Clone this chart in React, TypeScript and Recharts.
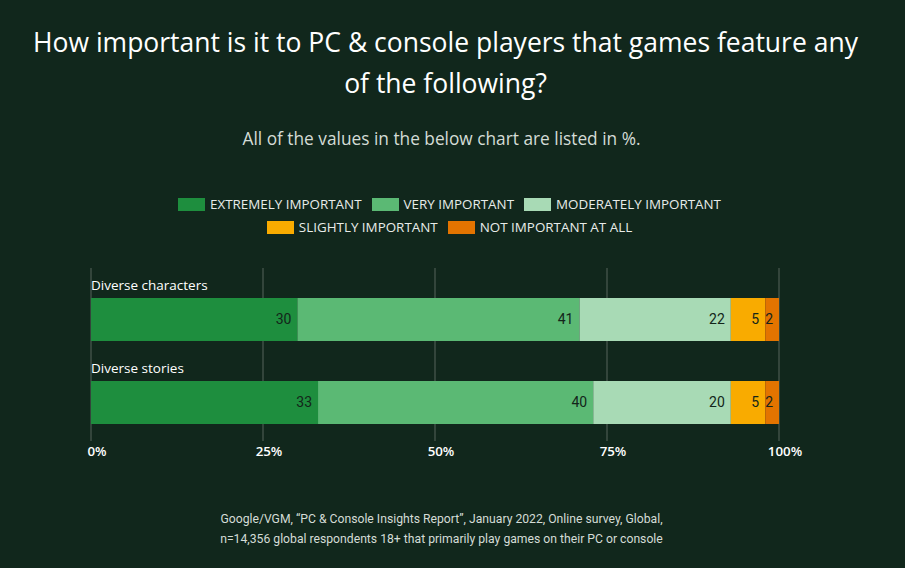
import React from "react";
import { BarChart, Bar, XAxis, YAxis, CartesianGrid, LabelList } from "recharts";

// Survey answers, in percent of respondents
const categories = ["Diverse characters", "Diverse stories"];
const extremelyImportant = [30, 33];
const veryImportant = [41, 40];
const moderatelyImportant = [22, 20];
const slightlyImportant = [5, 5];
const notImportantAtAll = [2, 2];

const xTicks = [0, 25, 50, 75, 100];

const series = [
  { key: "extremely", label: "EXTREMELY IMPORTANT", color: "#1e8e3e", values: extremelyImportant },
  { key: "very", label: "VERY IMPORTANT", color: "#5bb974", values: veryImportant },
  { key: "moderately", label: "MODERATELY IMPORTANT", color: "#a8dab5", values: moderatelyImportant },
  { key: "slightly", label: "SLIGHTLY IMPORTANT", color: "#f9ab00", values: slightlyImportant },
  { key: "notAtAll", label: "NOT IMPORTANT AT ALL", color: "#e37400", values: notImportantAtAll },
];

const data = categories.map((name, i) => {
  const row: Record<string, string | number> = { name };
  series.forEach((s) => {
    row[s.key] = s.values[i];
  });
  return row;
});

const BG = "#11271c";
const FONT = "'Open Sans', Roboto, sans-serif";
const SMALL_FONT = "Roboto, 'Open Sans', sans-serif";
const PLOT_LEFT = 91;

// Row name written just above the left end of each bar
const CategoryLabel = (props: any) => {
  const { x, y, value } = props;
  return (
    <text x={x} y={y - 8} fill="#ffffff" fontSize={13.5} fontWeight={500} fontFamily={FONT} textAnchor="start">
      {value}
    </text>
  );
};

const PercentTick = (props: any) => {
  const { x, y, payload } = props;
  return (
    <text x={x + 6} y={y + 12} fill="#ffffff" fontSize={13.3} fontWeight={600} fontFamily={FONT} textAnchor="middle">
      {payload.value}%
    </text>
  );
};

const LegendItem = ({ label, color }: { label: string; color: string }) => (
  <span style={{ display: "inline-flex", alignItems: "center", margin: "0 5px" }}>
    <span style={{ display: "inline-block", width: 27, height: 13, background: color, marginRight: 5 }} />
    <span>{label}</span>
  </span>
);

export default function App() {
  const rows = [series.slice(0, 3), series.slice(3)];
  return (
    <div
      style={{
        position: "absolute",
        left: 0,
        top: 0,
        width: 905,
        height: 568,
        background: BG,
        fontFamily: FONT,
        overflow: "hidden",
      }}
    >
      <div
        style={{
          position: "absolute",
          top: 22,
          left: -7,
          width: 905,
          textAlign: "center",
          color: "#ffffff",
          fontSize: 26.5,
          lineHeight: "41px",
        }}
      >
        How important is it to PC &amp; console players that games feature any
        <br />
        of the following?
      </div>
      <div
        style={{
          position: "absolute",
          top: 127,
          left: -11,
          width: 905,
          textAlign: "center",
          color: "#d4dcd6",
          fontSize: 17.3,
        }}
      >
        All of the values in the below chart are listed in %.
      </div>
      <div
        style={{
          position: "absolute",
          top: 194,
          left: -3,
          width: 905,
          textAlign: "center",
          color: "#e8ece9",
          fontSize: 13.4,
          lineHeight: "21px",
        }}
      >
        {rows.map((r, i) => (
          <div key={i}>
            {r.map((s) => (
              <LegendItem key={s.key} label={s.label} color={s.color} />
            ))}
          </div>
        ))}
      </div>
      <div style={{ position: "absolute", left: 0, top: 0 }}>
        <BarChart
          width={905}
          height={568}
          data={data}
          layout="vertical"
          margin={{ top: 278, right: 126, bottom: 104, left: PLOT_LEFT }}
        >
          <CartesianGrid horizontal={false} vertical stroke="#56655b" strokeWidth={1} y={268} height={173} />
          <XAxis
            type="number"
            domain={[0, 100]}
            ticks={xTicks}
            axisLine={false}
            tickLine={false}
            tickSize={0}
            tickMargin={0}
            height={20}
            tick={<PercentTick />}
            interval={0}
          />
          <YAxis type="category" dataKey="name" width={0} axisLine={false} tickLine={false} tick={false} />
          {series.map((s, i) => (
            <Bar key={s.key} dataKey={s.key} stackId="a" fill={s.color} barSize={43} isAnimationActive={false}>
              <LabelList
                dataKey={s.key}
                position="insideRight"
                offset={6}
                fill="#13251a"
                fontSize={14}
                fontFamily={SMALL_FONT}
              />
              {i === 0 && <LabelList dataKey="name" content={<CategoryLabel />} />}
            </Bar>
          ))}
        </BarChart>
      </div>
      <div
        style={{
          position: "absolute",
          top: 509,
          left: -11,
          width: 905,
          textAlign: "center",
          color: "#d4dcd6",
          fontSize: 12.2,
          lineHeight: "20px",
          fontFamily: SMALL_FONT,
        }}
      >
        Google/VGM, “PC &amp; Console Insights Report”, January 2022, Online survey, Global,
        <br />
        n=14,356 global respondents 18+ that primarily play games on their PC or console
      </div>
    </div>
  );
}
